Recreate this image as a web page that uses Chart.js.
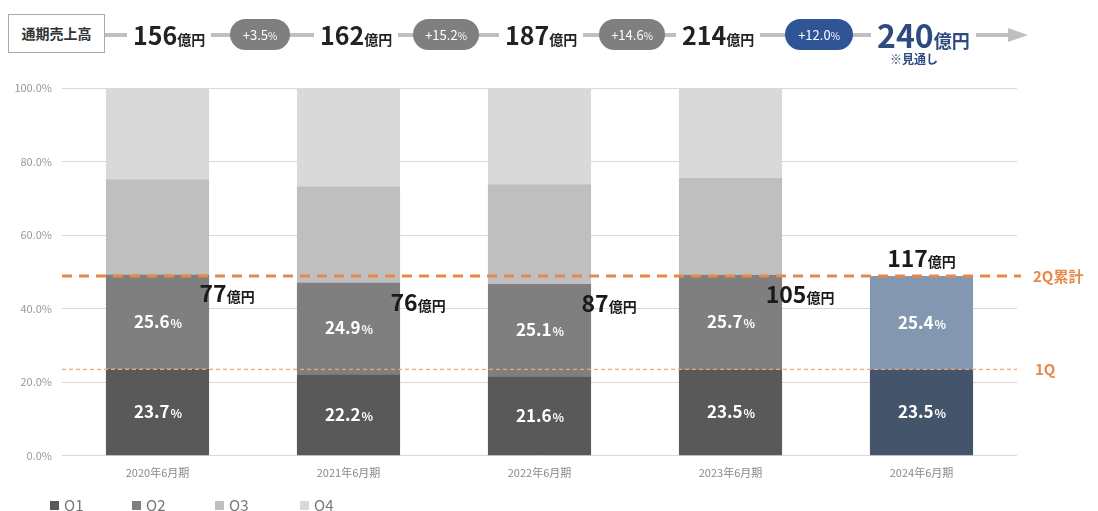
<!DOCTYPE html>
<html>
<head>
<meta charset="utf-8">
<script src="https://cdn.jsdelivr.net/npm/chart.js@4"></script>
<style>
  body { margin: 0; background: #fff; font-family: "Noto Sans CJK JP", "Noto Sans", sans-serif; }
  #wrap { position: relative; width: 1098px; height: 511px; overflow: hidden; }
  #chartBox { position: absolute; left: 0; top: 0; width: 1098px; height: 511px; }
  .hdr { position: absolute; font-weight: 700; white-space: nowrap; }
  .line { position: absolute; left: 105px; top: 33px; width: 905px; height: 4px; background: #bfbfbf; }
  .arrow { position: absolute; left: 1008px; top: 28px; width: 0; height: 0;
           border-top: 7px solid transparent; border-bottom: 7px solid transparent; border-left: 20px solid #bfbfbf; }
  .box { left: 8px; top: 14px; width: 95px; height: 37px; border: 1px solid #aaa; background: #fff;
         font-size: 14px; color: #333; text-align: center; line-height: 37px; }
  .val { top: 14px; background: #fff; padding: 0 6px; color: #222; font-size: 25px; line-height: 40px; }
  .val small { font-size: 14px; }
  .pill { top: 19px; height: 31px; border-radius: 16px; background: #7f7f7f; color: #fff;
          font-size: 13px; font-weight: 400; text-align: center; line-height: 31px; }
  .pill small { font-size: 10px; }
  .note { left: 890px; top: 50px; font-size: 12px; color: #2e4a80; }
  .legend { position: absolute; top: 496px; height: 18px; line-height: 18px; font-size: 15px; color: #777; display: flex; align-items: center; }
  .legend i { display: inline-block; width: 9px; height: 9px; margin-right: 5px; }
</style>
</head>
<body>
<div id="wrap">
  <div id="chartBox"><canvas id="chart"></canvas></div>
  <div id="header"></div>
  <div id="legend"></div>
</div>
<script>
const categories = ['2020年6月期', '2021年6月期', '2022年6月期', '2023年6月期', '2024年6月期'];
const q1 = [23.7, 22.2, 21.6, 23.5, 23.5];
const q2 = [25.6, 24.9, 25.1, 25.7, 25.4];
const q3 = [25.9, 26.2, 27.1, 26.3, null];
const q4 = [24.8, 26.7, 26.2, 24.5, null];
const cumulative2Q = [77, 76, 87, 105, 117]; // 億円
const annualSales = [156, 162, 187, 214, 240]; // 億円
const growthRates = ['+3.5', '+15.2', '+14.6', '+12.0'];
const seriesNames = ['Q1', 'Q2', 'Q3', 'Q4'];

const grayColors = ['#595959', '#7f7f7f', '#bfbfbf', '#d9d9d9'];
const forecastColors = ['#44546a', '#8497b0'];
const orange = '#e68a4c';

// header row: 通期売上高 -> 156 -> +3.5% ...
const valueX = [127, 314, 499, 676, 871];
const pillX = [230, 413, 599, 785];
const pillW = [60, 66, 66, 68];
let html = '<div class="line"></div><div class="arrow"></div><div class="hdr box">通期売上高</div>';
annualSales.forEach((v, i) => {
  const last = i === annualSales.length - 1;
  const style = last ? 'color:#2e4a80;font-size:32px;' : '';
  const small = last ? 'style="font-size:18px"' : '';
  html += `<div class="hdr val" style="left:${valueX[i]}px;${style}">${v}<small ${small}>億円</small></div>`;
});
growthRates.forEach((g, i) => {
  const bg = i === growthRates.length - 1 ? 'background:#2f5597;' : '';
  html += `<div class="hdr pill" style="left:${pillX[i]}px;width:${pillW[i]}px;${bg}">${g}<small>%</small></div>`;
});
html += '<div class="hdr note">※見通し</div>';
document.getElementById('header').innerHTML = html;

const legendX = [50, 132, 215, 300];
document.getElementById('legend').innerHTML = seriesNames.map((n, i) =>
  `<div class="legend" style="left:${legendX[i]}px"><i style="background:${grayColors[i]}"></i>${n}</div>`).join('');

function colorsFor(idx) {
  return categories.map((c, j) => (j === categories.length - 1 && idx < 2) ? forecastColors[idx] : grayColors[idx]);
}

const labelPlugin = {
  id: 'labels',
  afterDatasetsDraw(chart) {
    const ctx = chart.ctx;
    const y = chart.scales.y;
    const area = chart.chartArea;
    ctx.save();

    // orange reference lines (2024 1Q and 2Q cumulative)
    const last = categories.length - 1;
    const y2 = y.getPixelForValue(q1[last] + q2[last]);
    const y1 = y.getPixelForValue(q1[last]);
    ctx.strokeStyle = orange;
    ctx.lineWidth = 3;
    ctx.setLineDash([10, 7]);
    ctx.beginPath(); ctx.moveTo(area.left, y2); ctx.lineTo(area.right + 4, y2); ctx.stroke();
    ctx.strokeStyle = '#eba67a';
    ctx.lineWidth = 1.2;
    ctx.setLineDash([4, 3]);
    ctx.beginPath(); ctx.moveTo(area.left, y1); ctx.lineTo(area.right, y1); ctx.stroke();
    ctx.setLineDash([]);
    ctx.fillStyle = orange;
    ctx.font = 'bold 15px "Noto Sans CJK JP"';
    ctx.textBaseline = 'middle';
    ctx.textAlign = 'left';
    ctx.fillText('2Q累計', area.right + 16, y2);
    ctx.fillText('1Q', area.right + 18, y1);

    // percentage labels inside Q1 / Q2
    [0, 1].forEach(di => {
      const meta = chart.getDatasetMeta(di);
      const data = di === 0 ? q1 : q2;
      meta.data.forEach((bar, j) => {
        const num = data[j].toFixed(1);
        const cy = (bar.y + bar.base) / 2;
        ctx.font = 'bold 17px "Noto Sans CJK JP"';
        const w1 = ctx.measureText(num).width;
        ctx.font = 'bold 12px "Noto Sans CJK JP"';
        const w2 = ctx.measureText('%').width;
        const x0 = bar.x - (w1 + w2) / 2;
        ctx.fillStyle = '#fff';
        ctx.textAlign = 'left';
        ctx.textBaseline = 'alphabetic';
        ctx.font = 'bold 17px "Noto Sans CJK JP"';
        ctx.fillText(num, x0, cy + 6);
        ctx.font = 'bold 12px "Noto Sans CJK JP"';
        ctx.fillText('%', x0 + w1 + 1, cy + 6);
      });
    });

    // 2Q cumulative sales labels
    const meta2 = chart.getDatasetMeta(1);
    meta2.data.forEach((bar, j) => {
      const num = String(cumulative2Q[j]);
      ctx.font = 'bold 23px "Noto Sans CJK JP"';
      const w1 = ctx.measureText(num).width;
      ctx.font = 'bold 14px "Noto Sans CJK JP"';
      const w2 = ctx.measureText('億円').width;
      let cx, by;
      if (j === last) { cx = bar.x; by = bar.y - 9; }
      else { cx = bar.x + bar.width / 2 + 18; by = bar.y + 28; }
      const x0 = cx - (w1 + w2) / 2;
      ctx.fillStyle = '#1a1a1a';
      ctx.textAlign = 'left';
      ctx.font = 'bold 23px "Noto Sans CJK JP"';
      ctx.fillText(num, x0, by);
      ctx.font = 'bold 14px "Noto Sans CJK JP"';
      ctx.fillText('億円', x0 + w1, by);
    });
    ctx.restore();
  }
};

const datasets = [q1, q2, q3, q4].map((d, i) => ({
  label: seriesNames[i],
  data: d,
  backgroundColor: colorsFor(i),
  borderWidth: 0,
  categoryPercentage: 1,
  barPercentage: 0.54
}));

new Chart(document.getElementById('chart').getContext('2d'), {
  type: 'bar',
  data: { labels: categories, datasets: datasets },
  plugins: [labelPlugin],
  options: {
    responsive: true,
    maintainAspectRatio: false,
    animation: false,
    layout: { padding: { left: 0, right: 81, top: 88, bottom: 22 } },
    plugins: { legend: { display: false }, tooltip: { enabled: false } },
    scales: {
      x: {
        stacked: true,
        grid: { display: false, drawTicks: false },
        border: { display: false },
        ticks: { color: '#888', padding: 10, font: { size: 11, family: '"Noto Sans CJK JP"' } }
      },
      y: {
        stacked: true,
        min: 0,
        max: 100,
        afterFit(scale) { scale.width = 62; },
        grid: { color: '#d9d9d9', drawTicks: false },
        border: { display: false },
        ticks: {
          stepSize: 20,
          padding: 10,
          color: '#999',
          font: { size: 11, family: '"Noto Sans CJK JP"' },
          callback: v => v.toFixed(1) + '%'
        }
      }
    }
  }
});
</script>
</body>
</html>
